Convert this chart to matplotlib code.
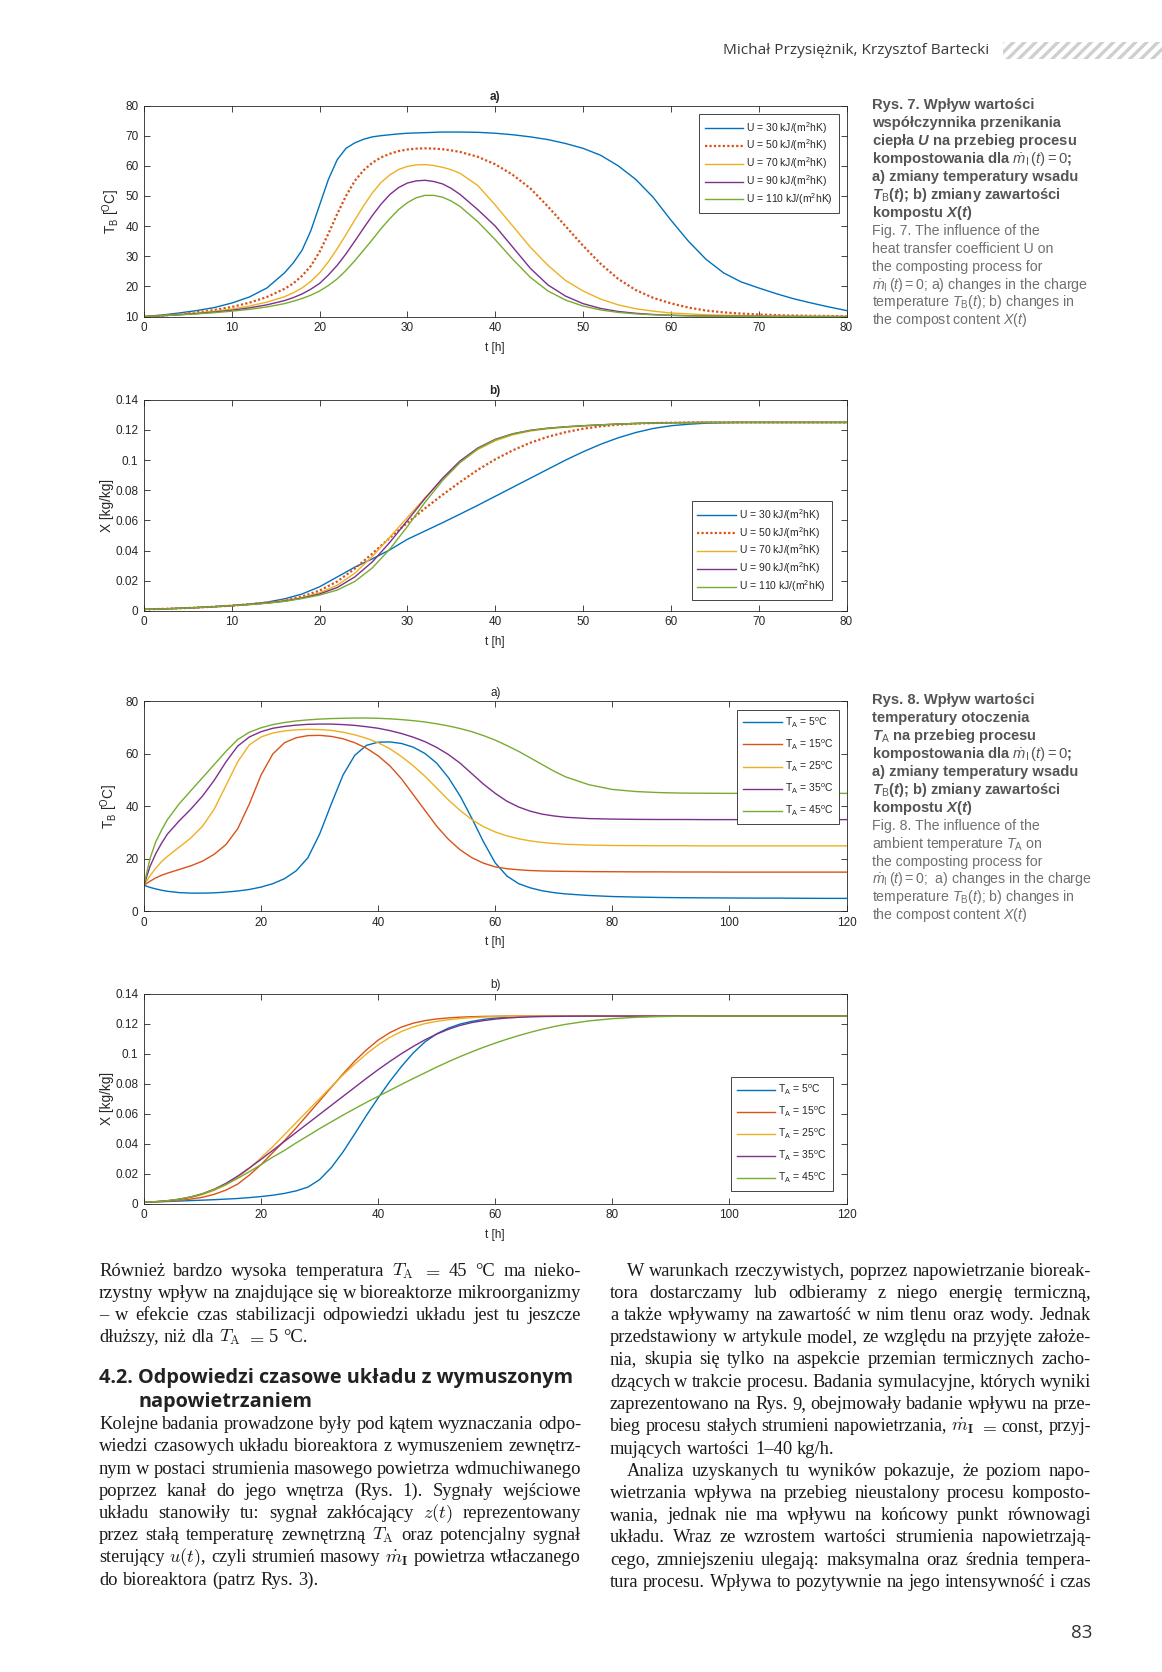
import matplotlib
matplotlib.use("Agg")
import matplotlib.pyplot as plt
from matplotlib.patches import Rectangle

plt.rcParams["font.family"] = ["Liberation Sans", "DejaVu Sans"]
plt.rcParams["mathtext.fontset"] = "custom"
plt.rcParams["mathtext.rm"] = "Liberation Sans"
plt.rcParams["mathtext.it"] = "Liberation Sans:italic"
plt.rcParams["mathtext.bf"] = "Liberation Sans:italic:bold"
plt.rcParams["hatch.linewidth"] = 2.4

# ---------------- data (read from the page) ----------------
# Rys. 7 a): t = 0..80 h, denser sampling around the bends
t7a = [0, 2, 4, 6, 8, 10, 12, 14,
       16, 17, 18, 19, 20, 21, 22, 23, 24, 25, 26, 27, 28, 29, 30, 31, 32, 33, 34, 35, 36,
       38, 40, 42, 44, 46, 48, 50, 52, 54, 56, 58, 60, 62, 64, 66, 68, 70, 72, 74, 76, 78, 80]

u_labels = [r"U = 30 kJ/(m$^2$hK)", r"U = 50 kJ/(m$^2$hK)", r"U = 70 kJ/(m$^2$hK)",
            r"U = 90 kJ/(m$^2$hK)", r"U = 110 kJ/(m$^2$hK)"]

tb7_u30 = [10.0, 10.5, 11.2, 12.0, 13.0, 14.5, 16.5, 19.5,
           24.5, 27.8, 32.0, 38.5, 47.0, 55.5, 62.0, 65.8, 67.6, 68.8, 69.6, 70.0, 70.3,
           70.6, 70.8, 70.9, 71.0, 71.1, 71.2, 71.2, 71.2,
           71.1, 70.8, 70.3, 69.6, 68.7, 67.4, 65.8, 63.5, 60.0, 55.5, 49.5,
           42.0, 35.0, 29.0, 24.5, 21.5, 19.5, 17.6, 15.9, 14.5, 13.2, 12.0]
tb7_u50 = [10.0, 10.3, 10.8, 11.4, 12.2, 13.2, 14.6, 16.5,
           19.2, 21.0, 23.5, 26.8, 31.5, 37.5, 44.0, 50.0, 55.0, 58.5, 61.0, 62.8, 64.0,
           64.9, 65.4, 65.7, 65.8, 65.7, 65.5, 65.1, 64.6,
           63.0, 60.5, 57.0, 52.5, 46.5, 40.0, 33.5, 27.5, 22.5, 18.8, 16.2,
           14.4, 13.0, 12.0, 11.4, 11.0, 10.7, 10.5, 10.35, 10.25, 10.2, 10.1]
tb7_u70 = [10.0, 10.3, 10.7, 11.2, 11.8, 12.5, 13.5, 14.8,
           16.6, 17.9, 19.5, 21.7, 24.5, 28.2, 32.5, 37.2, 42.0, 46.7, 51.0, 54.5, 57.0,
           58.8, 59.8, 60.3, 60.4, 60.1, 59.5, 58.7, 57.5,
           53.5, 47.0, 40.0, 33.0, 27.0, 22.0, 18.5, 15.8, 13.9, 12.6, 11.8,
           11.2, 10.9, 10.6, 10.45, 10.35, 10.25, 10.2, 10.15, 10.1, 10.1, 10.05]
tb7_u90 = [10.0, 10.3, 10.6, 11.0, 11.5, 12.1, 12.9, 13.9,
           15.3, 16.3, 17.5, 19.1, 21.0, 23.8, 27.0, 30.8, 35.0, 39.3, 43.5, 47.3, 50.5,
           52.8, 54.3, 55.0, 55.2, 54.8, 54.0, 52.5, 50.5,
           45.5, 40.0, 33.0, 26.0, 20.5, 16.8, 14.3, 12.7, 11.7, 11.1, 10.7,
           10.45, 10.3, 10.2, 10.15, 10.1, 10.1, 10.05, 10.05, 10.0, 10.0, 10.0]
tb7_u110 = [10.0, 10.3, 10.6, 10.9, 11.3, 11.8, 12.4, 13.2,
            14.3, 15.1, 16.0, 17.1, 18.5, 20.3, 22.5, 25.3, 28.5, 32.0, 35.5, 39.2, 42.5,
            45.5, 47.8, 49.4, 50.2, 50.2, 49.6, 48.3, 46.5,
            41.5, 35.5, 29.0, 23.0, 18.5, 15.5, 13.5, 12.2, 11.4, 10.9, 10.6,
            10.4, 10.25, 10.15, 10.1, 10.05, 10.05, 10.0, 10.0, 10.0, 10.0, 10.0]

# Rys. 7 b): t = 0..80 h
t7 = [0, 2, 4, 6, 8, 10, 12, 14, 16, 18, 20, 22, 24, 26, 28, 30, 32, 34, 36, 38,
      40, 42, 44, 46, 48, 50, 52, 54, 56, 58, 60, 62, 64, 66, 68, 70, 72, 74, 76, 78, 80]

x7_u30 = [0.0010, 0.0013, 0.0017, 0.0022, 0.0028, 0.0035, 0.0045, 0.0058, 0.0080, 0.0112,
          0.0160, 0.0225, 0.0290, 0.0345, 0.0405, 0.0475, 0.0530, 0.0585, 0.0642, 0.0700,
          0.0760, 0.0820, 0.0880, 0.0940, 0.1000, 0.1055, 0.1105, 0.1148, 0.1183, 0.1210,
          0.1228, 0.1238, 0.1245, 0.1248, 0.1250, 0.1250, 0.1250, 0.1250, 0.1250, 0.1250, 0.1250]
x7_u50 = [0.0010, 0.0013, 0.0017, 0.0022, 0.0028, 0.0035, 0.0044, 0.0055, 0.0070, 0.0095,
          0.0135, 0.0195, 0.0280, 0.0380, 0.0485, 0.0585, 0.0680, 0.0770, 0.0855, 0.0935,
          0.1005, 0.1065, 0.1115, 0.1155, 0.1185, 0.1208, 0.1224, 0.1235, 0.1242, 0.1246,
          0.1248, 0.1249, 0.1250, 0.1250, 0.1250, 0.1250, 0.1250, 0.1250, 0.1250, 0.1250, 0.1250]
x7_u70 = [0.0010, 0.0013, 0.0017, 0.0022, 0.0028, 0.0035, 0.0043, 0.0053, 0.0067, 0.0088,
          0.0120, 0.0170, 0.0250, 0.0360, 0.0490, 0.0620, 0.0750, 0.0875, 0.0985, 0.1070,
          0.1128, 0.1168, 0.1193, 0.1208, 0.1218, 0.1226, 0.1233, 0.1239, 0.1243, 0.1246,
          0.1248, 0.1249, 0.1250, 0.1250, 0.1250, 0.1250, 0.1250, 0.1250, 0.1250, 0.1250, 0.1250]
x7_u90 = [0.0010, 0.0013, 0.0017, 0.0022, 0.0028, 0.0035, 0.0043, 0.0052, 0.0065, 0.0085,
          0.0112, 0.0155, 0.0225, 0.0325, 0.0455, 0.0600, 0.0745, 0.0880, 0.0995, 0.1080,
          0.1138, 0.1175, 0.1198, 0.1212, 0.1221, 0.1228, 0.1234, 0.1239, 0.1243, 0.1246,
          0.1248, 0.1249, 0.1250, 0.1250, 0.1250, 0.1250, 0.1250, 0.1250, 0.1250, 0.1250, 0.1250]
x7_u110 = [0.0010, 0.0013, 0.0017, 0.0022, 0.0028, 0.0035, 0.0042, 0.0051, 0.0063, 0.0082,
           0.0105, 0.0138, 0.0195, 0.0285, 0.0410, 0.0560, 0.0720, 0.0865, 0.0985, 0.1075,
           0.1135, 0.1173, 0.1197, 0.1211, 0.1221, 0.1228, 0.1234, 0.1239, 0.1243, 0.1246,
           0.1248, 0.1249, 0.1250, 0.1250, 0.1250, 0.1250, 0.1250, 0.1250, 0.1250, 0.1250, 0.1250]

# Rys. 8: t = 0..120 h
t8 = [0, 1, 2, 3, 4,
      6, 8, 10, 12, 14, 16, 18, 20, 22, 24,
      26, 28, 30, 32, 34, 36, 38, 40, 42, 44,
      46, 48, 50, 52, 54, 56, 58, 60, 62, 64,
      66, 68, 70, 72,
      76, 80, 84, 88, 92, 96, 100, 104, 108, 112, 116, 120]

ta_labels = [r"T$_\mathrm{A}$ = 5$^\mathrm{o}$C", r"T$_\mathrm{A}$ = 15$^\mathrm{o}$C",
             r"T$_\mathrm{A}$ = 25$^\mathrm{o}$C", r"T$_\mathrm{A}$ = 35$^\mathrm{o}$C",
             r"T$_\mathrm{A}$ = 45$^\mathrm{o}$C"]

tb8_5 = [10.0, 9.2, 8.6, 8.1, 7.7,
         7.2, 7.0, 7.0, 7.1, 7.4, 7.8, 8.4, 9.3, 10.6, 12.5,
         15.5, 20.5, 29.5, 41.0, 52.0, 59.5, 63.3, 64.5, 64.6, 64.0,
         62.6, 60.2, 56.5, 51.0, 44.0, 35.5, 26.5, 18.5, 13.5, 10.6,
         9.0, 7.9, 7.2, 6.7,
         6.1, 5.7, 5.5, 5.35, 5.25, 5.2, 5.15, 5.1, 5.1, 5.05, 5.0, 5.0]
tb8_15 = [10.0, 11.5, 12.8, 13.8, 14.6,
          16.0, 17.4, 19.2, 21.8, 25.5, 31.5, 41.0, 52.0, 60.0, 64.3,
          66.2, 67.0, 67.1, 66.7, 65.8, 64.3, 62.2, 59.3, 55.5, 50.5,
          44.5, 38.5, 32.5, 27.5, 23.5, 20.5, 18.4, 17.0, 16.3, 15.9,
          15.6, 15.45, 15.35, 15.3,
          15.2, 15.15, 15.1, 15.1, 15.05, 15.05, 15.0, 15.0, 15.0, 15.0, 15.0, 15.0]
tb8_25 = [10.0, 13.5, 16.5, 19.0, 21.0,
          24.5, 28.0, 32.5, 39.0, 48.0, 57.0, 63.5, 66.5, 68.0, 68.8,
          69.2, 69.4, 69.3, 69.0, 68.3, 67.3, 66.0, 64.3, 62.0, 59.0,
          55.5, 51.5, 47.0, 42.5, 38.5, 35.0, 32.3, 30.3, 28.8, 27.7,
          26.9, 26.3, 25.9, 25.6,
          25.3, 25.15, 25.1, 25.05, 25.05, 25.0, 25.0, 25.0, 25.0, 25.0, 25.0, 25.0]
tb8_35 = [10.0, 17.0, 22.0, 26.0, 29.5,
          34.5, 39.0, 44.0, 50.0, 57.0, 63.0, 66.5, 68.5, 69.8, 70.5,
          71.0, 71.3, 71.4, 71.4, 71.2, 70.9, 70.4, 69.8, 68.9, 67.8,
          66.4, 64.7, 62.5, 59.8, 56.5, 52.5, 48.5, 45.0, 42.0, 39.8,
          38.2, 37.1, 36.4, 35.9,
          35.4, 35.2, 35.1, 35.05, 35.05, 35.0, 35.0, 35.0, 35.0, 35.0, 35.0, 35.0]
tb8_45 = [10.0, 20.0, 26.5, 31.0, 35.0,
          41.0, 46.0, 51.0, 56.0, 61.0, 65.5, 68.3, 70.0, 71.2, 72.0,
          72.6, 73.0, 73.3, 73.5, 73.6, 73.7, 73.7, 73.6, 73.4, 73.1,
          72.7, 72.2, 71.5, 70.7, 69.7, 68.5, 67.0, 65.3, 63.2, 61.0,
          58.5, 56.0, 53.5, 51.3,
          48.3, 46.5, 45.7, 45.3, 45.1, 45.05, 45.0, 45.0, 45.0, 45.0, 45.0, 45.0]

x8_5 = [0.0010, 0.0011, 0.0012, 0.0013, 0.0014,
        0.0017, 0.0020, 0.0023, 0.0026, 0.0030, 0.0034, 0.0040, 0.0047, 0.0056, 0.0068,
        0.0085, 0.0110, 0.0160, 0.0240, 0.0345, 0.0465, 0.0588, 0.0705, 0.0815, 0.0915,
        0.1005, 0.1078, 0.1132, 0.1170, 0.1197, 0.1215, 0.1228, 0.1237, 0.1243, 0.1246,
        0.1248, 0.1249, 0.1250, 0.1250,
        0.1250, 0.1250, 0.1250, 0.1250, 0.1250, 0.1250, 0.1250, 0.1250, 0.1250, 0.1250, 0.1250, 0.1250]
x8_15 = [0.0010, 0.0011, 0.0012, 0.0014, 0.0016,
         0.0022, 0.0030, 0.0042, 0.0062, 0.0090, 0.0130, 0.0190, 0.0260, 0.0340, 0.0420,
         0.0505, 0.0595, 0.0685, 0.0775, 0.0865, 0.0950, 0.1025, 0.1090, 0.1140, 0.1177,
         0.1203, 0.1220, 0.1231, 0.1238, 0.1243, 0.1246, 0.1248, 0.1249, 0.1250, 0.1250,
         0.1250, 0.1250, 0.1250, 0.1250,
         0.1250, 0.1250, 0.1250, 0.1250, 0.1250, 0.1250, 0.1250, 0.1250, 0.1250, 0.1250, 0.1250, 0.1250]
x8_25 = [0.0010, 0.0011, 0.0013, 0.0015, 0.0018,
         0.0027, 0.0040, 0.0060, 0.0088, 0.0125, 0.0175, 0.0235, 0.0305, 0.0380, 0.0460,
         0.0540, 0.0620, 0.0700, 0.0780, 0.0858, 0.0930, 0.0998, 0.1058, 0.1108, 0.1148,
         0.1178, 0.1200, 0.1215, 0.1226, 0.1234, 0.1240, 0.1244, 0.1246, 0.1248, 0.1249,
         0.1250, 0.1250, 0.1250, 0.1250,
         0.1250, 0.1250, 0.1250, 0.1250, 0.1250, 0.1250, 0.1250, 0.1250, 0.1250, 0.1250, 0.1250, 0.1250]
x8_35 = [0.0010, 0.0011, 0.0013, 0.0016, 0.0019,
         0.0029, 0.0044, 0.0066, 0.0096, 0.0135, 0.0183, 0.0238, 0.0295, 0.0355, 0.0415,
         0.0475, 0.0535, 0.0595, 0.0655, 0.0715, 0.0775, 0.0835, 0.0893, 0.0948, 0.1000,
         0.1048, 0.1092, 0.1130, 0.1162, 0.1188, 0.1207, 0.1220, 0.1230, 0.1237, 0.1242,
         0.1245, 0.1247, 0.1248, 0.1249,
         0.1250, 0.1250, 0.1250, 0.1250, 0.1250, 0.1250, 0.1250, 0.1250, 0.1250, 0.1250, 0.1250, 0.1250]
x8_45 = [0.0010, 0.0011, 0.0013, 0.0016, 0.0020,
         0.0030, 0.0045, 0.0066, 0.0094, 0.0128, 0.0168, 0.0213, 0.0260, 0.0310, 0.0355,
         0.0405, 0.0452, 0.0500, 0.0545, 0.0590, 0.0633, 0.0675, 0.0715, 0.0755, 0.0795,
         0.0834, 0.0872, 0.0910, 0.0946, 0.0980, 0.1012, 0.1042, 0.1070, 0.1096, 0.1120,
         0.1142, 0.1162, 0.1180, 0.1195,
         0.1218, 0.1233, 0.1242, 0.1247, 0.1249, 0.1250, 0.1250, 0.1250, 0.1250, 0.1250, 0.1250, 0.1250]

# MATLAB default line colours
colors = ["#0072BD", "#D95319", "#EDB120", "#7E2F8E", "#77AC30"]

caption7 = [
    ("Rys. 7. Wpływ wartości", True),
    ("współczynnika przenikania", True),
    (r"ciepła $\mathbf{U}$ na przebieg procesu", True),
    (r"kompostowania dla $\dot{m}_\mathrm{I}\,(t)=0$;", True),
    ("a) zmiany temperatury wsadu", True),
    (r"$\mathbf{T}_\mathrm{B}$($\mathbf{t}$); b) zmiany zawartości", True),
    (r"kompostu $\mathbf{X}$($\mathbf{t}$)", True),
    ("Fig. 7. The influence of the", False),
    ("heat transfer coefficient U on", False),
    ("the composting process for", False),
    (r"$\dot{m}_\mathrm{I}\,(t)=0$; a) changes in the charge", False),
    (r"temperature $T_\mathrm{B}$($t$); b) changes in", False),
    (r"the compost content $X$($t$)", False),
]
caption8 = [
    ("Rys. 8. Wpływ wartości", True),
    ("temperatury otoczenia", True),
    (r"$\mathbf{T}_\mathrm{A}$ na przebieg procesu", True),
    (r"kompostowania dla $\dot{m}_\mathrm{I}\,(t)=0$;", True),
    ("a) zmiany temperatury wsadu", True),
    (r"$\mathbf{T}_\mathrm{B}$($\mathbf{t}$); b) zmiany zawartości", True),
    (r"kompostu $\mathbf{X}$($\mathbf{t}$)", True),
    ("Fig. 8. The influence of the", False),
    (r"ambient temperature $T_\mathrm{A}$ on", False),
    ("the composting process for", False),
    (r"$\dot{m}_\mathrm{I}\,(t)=0$;  a) changes in the charge", False),
    (r"temperature $T_\mathrm{B}$($t$); b) changes in", False),
    (r"the compost content $X$($t$)", False),
]

# (text, justified?)
left_col_a = [
    (r"Również bardzo wysoka temperatura $T_\mathrm{A}$ $=$ 45 °C ma nieko-", True),
    ("rzystny wpływ na znajdujące się w bioreaktorze mikroorganizmy", True),
    ("– w efekcie czas stabilizacji odpowiedzi układu jest tu jeszcze", True),
    (r"dłuższy, niż dla $T_\mathrm{A}$ $=$ 5 °C.", False),
]
heading = ["4.2. Odpowiedzi czasowe układu z wymuszonym", "napowietrzaniem"]
left_col_b = [
    ("Kolejne badania prowadzone były pod kątem wyznaczania odpo-", True),
    ("wiedzi czasowych układu bioreaktora z wymuszeniem zewnętrz-", True),
    ("nym w postaci strumienia masowego powietrza wdmuchiwanego", True),
    ("poprzez kanał do jego wnętrza (Rys. 1). Sygnały wejściowe", True),
    (r"układu stanowiły tu: sygnał zakłócający $z(t)$ reprezentowany", True),
    (r"przez stałą temperaturę zewnętrzną $T_\mathrm{A}$ oraz potencjalny sygnał", True),
    (r"sterujący $u(t)$, czyli strumień masowy $\dot{m}_\mathbf{I}$ powietrza wtłaczanego", True),
    ("do bioreaktora (patrz Rys. 3).", False),
]
right_col = [
    ("W warunkach rzeczywistych, poprzez napowietrzanie bioreak-", True, True),
    ("tora dostarczamy lub odbieramy z niego energię termiczną,", True, False),
    ("a także wpływamy na zawartość w nim tlenu oraz wody. Jednak", True, False),
    ("przedstawiony w artykule model, ze względu na przyjęte założe-", True, False),
    ("nia, skupia się tylko na aspekcie przemian termicznych zacho-", True, False),
    ("dzących w trakcie procesu. Badania symulacyjne, których wyniki", True, False),
    ("zaprezentowano na Rys. 9, obejmowały badanie wpływu na prze-", True, False),
    (r"bieg procesu stałych strumieni napowietrzania, $\dot{m}_\mathbf{I}$ $=$ const, przyj-", True, False),
    ("mujących wartości 1–40 kg/h.", False, False),
    ("Analiza uzyskanych tu wyników pokazuje, że poziom napo-", True, True),
    ("wietrzania wpływa na przebieg nieustalony procesu komposto-", True, False),
    ("wania, jednak nie ma wpływu na końcowy punkt równowagi", True, False),
    ("układu. Wraz ze wzrostem wartości strumienia napowietrzają-", True, False),
    ("cego, zmniejszeniu ulegają: maksymalna oraz średnia tempera-", True, False),
    ("tura procesu. Wpływa to pozytywnie na jego intensywność i czas", True, False),
]

# ---------------- layout (pixels of the 1162x1672 page) ----------------
W, H = 1162, 1672
fig = plt.figure(figsize=(W / 100, H / 100), dpi=100)
renderer = fig.canvas.get_renderer()


def fx(px):
    return px / W


def fy(py):
    return 1 - py / H


AX_L, AX_R = 144, 846.5
INK = "#262626"


def make_axes(top, bottom, xlim, xticks, ylim, yticks, ylabel, ylab_x, title, bold):
    ax = fig.add_axes([fx(AX_L), fy(bottom), (AX_R - AX_L) / W, (bottom - top) / H])
    ax.set_xlim(xlim)
    ax.set_ylim(ylim)
    ax.set_xticks(xticks)
    ax.set_yticks(yticks)
    ax.set_yticklabels([f"{v:g}" for v in yticks])
    ax.tick_params(direction="in", top=True, right=True, length=4, width=0.6,
                   labelsize=8.5, colors=INK, pad=4)
    for s in ax.spines.values():
        s.set_linewidth(0.6)
        s.set_color(INK)
    ax.set_xlabel("t [h]", fontsize=8.5, color=INK)
    ax.xaxis.set_label_coords(0.5, -25 / (bottom - top))
    ax.set_ylabel(ylabel, fontsize=9.8, color=INK)
    ax.yaxis.set_label_coords(ylab_x, 0.5)
    ax.set_title(title, fontsize=8.5, fontweight="bold" if bold else "normal",
                 color=INK, pad=4)
    return ax


def add_legend(ax, loc, anchor, spacing):
    leg = ax.legend(loc=loc, bbox_to_anchor=anchor, borderaxespad=0, fontsize=7.5,
                    frameon=True, fancybox=False, edgecolor=INK, framealpha=1,
                    handlelength=3.7, handletextpad=0.3, labelspacing=spacing,
                    borderpad=0.55)
    leg.get_frame().set_linewidth(0.6)
    for txt in leg.get_texts():
        txt.set_color(INK)


DOT = (0, (1, 1))

# ----- Rys. 7 a)
ax1 = make_axes(105.5, 316.6, (0, 80), range(0, 81, 10), (10, 80), list(range(10, 81, 10)),
                r"T$_\mathrm{B}$ [$^\mathrm{O}$C]", -0.032, "a)", True)
for y, c, lab in zip([tb7_u30, tb7_u50, tb7_u70, tb7_u90, tb7_u110], colors, u_labels):
    dotted = c == colors[1]
    ax1.plot(t7a, y, color=c, lw=1.6 if dotted else 1.0, ls=DOT if dotted else "-", label=lab)
add_legend(ax1, "upper right", (1 - 7.5 / 702.5, 1 - 8.5 / 211), 0.2)

# ----- Rys. 7 b)
ax2 = make_axes(399.8, 610.9, (0, 80), range(0, 81, 10), (0, 0.14),
                [0, 0.02, 0.04, 0.06, 0.08, 0.1, 0.12, 0.14],
                "X [kg/kg]", -0.043, "b)", True)
for y, c, lab in zip([x7_u30, x7_u50, x7_u70, x7_u90, x7_u110], colors, u_labels):
    dotted = c == colors[1]
    ax2.plot(t7, y, color=c, lw=1.6 if dotted else 1.0, ls=DOT if dotted else "-", label=lab)
add_legend(ax2, "lower right", (1 - 15 / 702.5, 11 / 211), 0.2)

# ----- Rys. 8 a)
ax3 = make_axes(701.5, 911.5, (0, 120), range(0, 121, 20), (0, 80), [0, 20, 40, 60, 80],
                r"T$_\mathrm{B}$ [$^\mathrm{O}$C]", -0.034, "a)", False)
for y, c, lab in zip([tb8_5, tb8_15, tb8_25, tb8_35, tb8_45], colors, ta_labels):
    ax3.plot(t8, y, color=c, lw=1.0, label=lab)
add_legend(ax3, "upper right", (1 - 7.5 / 702.5, 1 - 8.5 / 210), 0.75)

# ----- Rys. 8 b)
ax4 = make_axes(993.6, 1203.6, (0, 120), range(0, 121, 20), (0, 0.14),
                [0, 0.02, 0.04, 0.06, 0.08, 0.1, 0.12, 0.14],
                "X [kg/kg]", -0.043, "b)", False)
for y, c, lab in zip([x8_5, x8_15, x8_25, x8_35, x8_45], colors, ta_labels):
    ax4.plot(t8, y, color=c, lw=1.0, label=lab)
add_legend(ax4, "lower right", (1 - 14 / 702.5, 12.8 / 210), 0.75)

# ----- captions on the right
CAP_X, CAP_PITCH = 872, 17.9
for start, lines in [(105.5, caption7), (700.5, caption8)]:
    for i, (line, bold) in enumerate(lines):
        fig.text(fx(CAP_X), fy(start + i * CAP_PITCH), line, va="center", ha="left",
                 fontsize=10.6 if bold else 10.2, fontweight="bold" if bold else "normal",
                 color="#555555" if bold else "#707070")

# ----- header and page number
fig.text(fx(989), fy(50), "Michał Przysiężnik, Krzysztof Bartecki", ha="right", va="center",
         fontfamily="Open Sans", fontsize=11.1, color="#3a3a3a")
fig.add_artist(Rectangle((fx(1003), fy(58.5)), 159 / W, 16 / H, transform=fig.transFigure,
                         facecolor="none", edgecolor="#cfcfcf", hatch="///", linewidth=0))
fig.text(fx(1082), fy(1633), "83", ha="center", va="center", fontfamily="Open Sans",
         fontsize=13.5, color="#333333")

# ----- body text, justified word by word
BODY_SIZE = 13.3
BODY = dict(fontfamily="Liberation Serif", color="#1a1a1a", math_fontfamily="cm")


def put_line(x0, x1, y, text, justify=True):
    words = text.split(" ")
    size = BODY_SIZE
    arts = [fig.text(0, fy(y), w, va="baseline", ha="left", fontsize=size, **BODY)
            for w in words]
    widths = [a.get_window_extent(renderer).width for a in arts]
    min_gap = 0.24 * size * 100 / 72
    if justify and sum(widths) + min_gap * (len(words) - 1) > x1 - x0:
        # line too long for the column: shrink it a little
        size *= (x1 - x0 - min_gap * (len(words) - 1)) / sum(widths)
        for a in arts:
            a.set_fontsize(size)
        widths = [a.get_window_extent(renderer).width for a in arts]
    if justify and len(words) > 1:
        gap = (x1 - x0 - sum(widths)) / (len(words) - 1)
    else:
        gap = 0.27 * size * 100 / 72
    x = x0
    for a, w in zip(arts, widths):
        a.set_x(fx(x))
        x += w + gap


PITCH = 22.25
LX0, LX1 = 99, 581
RX0, RX1 = 610, 1091
for i, (line, just) in enumerate(left_col_a):
    put_line(LX0, LX1, 1275.5 + i * PITCH, line, just)
fig.text(fx(99), fy(1383), heading[0], ha="left", va="baseline", fontfamily="Open Sans",
         fontweight="bold", fontsize=14.3, color="#222222")
fig.text(fx(139), fy(1406.5), heading[1], ha="left", va="baseline", fontfamily="Open Sans",
         fontweight="bold", fontsize=14.3, color="#222222")
for i, (line, just) in enumerate(left_col_b):
    put_line(LX0, LX1, 1429 + i * PITCH, line, just)
for i, (line, just, indent) in enumerate(right_col):
    put_line(RX0 + (17 if indent else 0), RX1, 1275.5 + i * PITCH, line, just)

fig.savefig("out.png", dpi=100)
